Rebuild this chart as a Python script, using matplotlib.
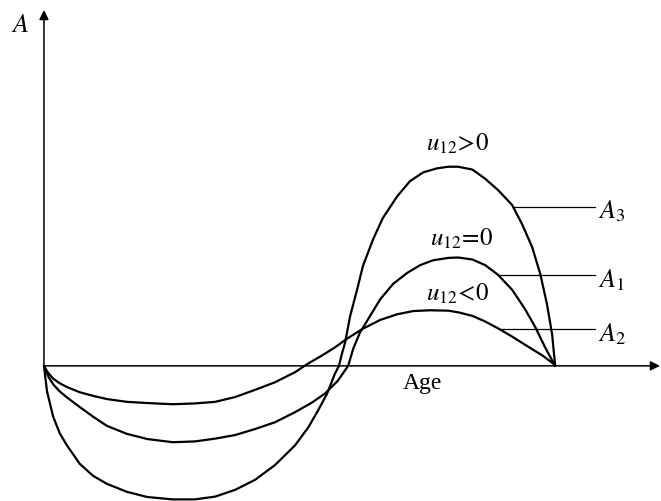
import matplotlib.pyplot as plt

plt.rcParams['mathtext.fontset'] = 'stix'
plt.rcParams['font.family'] = ['Liberation Serif', 'DejaVu Serif']

# --------- DATA ---------
# amplitude A against age for the three signs of u12

age_a3 = [0, 0.06, 0.18, 0.31, 0.45, 0.70, 0.96, 1.23, 1.62, 2.02, 2.52, 2.95, 3.35, 3.74, 4.13,
          4.52, 4.91, 5.17, 5.36, 5.54, 5.69, 5.77, 5.83, 5.89, 5.99, 6.13, 6.24, 6.44, 6.63,
          6.91, 7.16, 7.42, 7.69, 7.91, 8.10, 8.38, 8.63, 8.88, 9.16, 9.35, 9.55, 9.71, 9.84,
          9.94, 10.0]
amp_a3 = [0, -0.64, -1.27, -1.69, -1.99, -2.45, -2.75, -2.95, -3.15, -3.28, -3.34, -3.34, -3.27,
          -3.10, -2.85, -2.48, -1.99, -1.54, -1.12, -0.69, -0.20, 0.0, 0.31, 0.58, 1.25, 1.93,
          2.50, 3.17, 3.70, 4.24, 4.62, 4.84, 4.94, 4.98, 4.98, 4.91, 4.68, 4.40, 4.02, 3.55,
          2.97, 2.29, 1.54, 0.79, 0]

age_a1 = [0, 0.05, 0.10, 0.18, 0.30, 0.45, 0.70, 0.96, 1.23, 1.62, 2.02, 2.52, 2.95, 3.35, 3.74,
          4.13, 4.52, 4.91, 5.24, 5.50, 5.75, 5.95, 6.05, 6.18, 6.38, 6.58, 6.83, 7.10, 7.36,
          7.61, 7.91, 8.10, 8.38, 8.63, 8.88, 9.16, 9.41, 9.61, 9.80, 9.96, 10.0]
amp_a1 = [0, -0.16, -0.30, -0.46, -0.63, -0.79, -1.03, -1.27, -1.50, -1.70, -1.83, -1.91, -1.89,
          -1.82, -1.73, -1.58, -1.41, -1.16, -0.92, -0.69, -0.37, 0.0, 0.43, 0.83, 1.25, 1.67,
          2.05, 2.32, 2.52, 2.64, 2.70, 2.71, 2.66, 2.52, 2.28, 1.90, 1.42, 0.97, 0.47, 0.09, 0]

age_a2 = [0, 0.04, 0.08, 0.18, 0.30, 0.45, 0.70, 0.96, 1.23, 1.62, 2.02, 2.52, 2.95, 3.35, 3.74,
          4.13, 4.52, 4.91, 5.17, 5.44, 5.69, 5.93, 6.24, 6.58, 6.91, 7.22, 7.55, 7.91, 8.10,
          8.38, 8.63, 8.88, 9.16, 9.47, 9.75, 9.96, 10.0]
amp_a2 = [0, -0.09, -0.17, -0.32, -0.43, -0.53, -0.66, -0.75, -0.83, -0.90, -0.93, -0.96, -0.94,
          -0.90, -0.78, -0.60, -0.41, -0.16, 0.06, 0.26, 0.46, 0.68, 0.93, 1.15, 1.29, 1.37,
          1.39, 1.38, 1.34, 1.25, 1.11, 0.94, 0.73, 0.48, 0.26, 0.06, 0]

curve_names = [r'$A_3$', r'$A_1$', r'$A_2$']
curve_conditions = [r'$u_{12}\!>\!0$', r'$u_{12}\!=\!0$', r'$u_{12}\!<\!0$']

# --------- PLOT ---------

fig = plt.figure(figsize=(6.61, 5.01), dpi=100)
ax = fig.add_axes([0, 0, 1, 1])
ax.set_xlim(-0.86, 12.07)
ax.set_ylim(-3.38, 9.15)
ax.axis('off')

# axes with arrow heads
arrow = dict(arrowstyle='-|>', lw=1.1, color='black', mutation_scale=14, shrinkA=0, shrinkB=0)
ax.annotate('', xy=(0, 8.9), xytext=(0, 0), arrowprops=arrow)
ax.annotate('', xy=(12.05, 0), xytext=(0, 0), arrowprops=arrow)
ax.text(-0.47, 8.5, r'$A$', fontsize=19, ha='center', va='center')
ax.text(7.40, -0.45, 'Age', fontsize=17, ha='center', va='center')

for ages, amps in [(age_a3, amp_a3), (age_a1, amp_a1), (age_a2, amp_a2)]:
    ax.plot(ages, amps, color='black', lw=1.6, solid_capstyle='round', solid_joinstyle='round')

# condition labels above the humps
ax.text(8.10, 5.55, curve_conditions[0], fontsize=18, ha='center', va='center')
ax.text(8.18, 3.17, curve_conditions[1], fontsize=18, ha='center', va='center')
ax.text(8.10, 1.80, curve_conditions[2], fontsize=18, ha='center', va='center')

# leader lines to the curve names
leaders = [(9.17, 3.98), (8.90, 2.27), (8.90, 0.92)]
for (x0, y0), name in zip(leaders, curve_names):
    ax.plot([x0, 10.78], [y0, y0], color='black', lw=0.9)
    ax.text(10.84, y0 - 0.12, name, fontsize=19, ha='left', va='center')

fig.savefig('out.png', dpi=100)
